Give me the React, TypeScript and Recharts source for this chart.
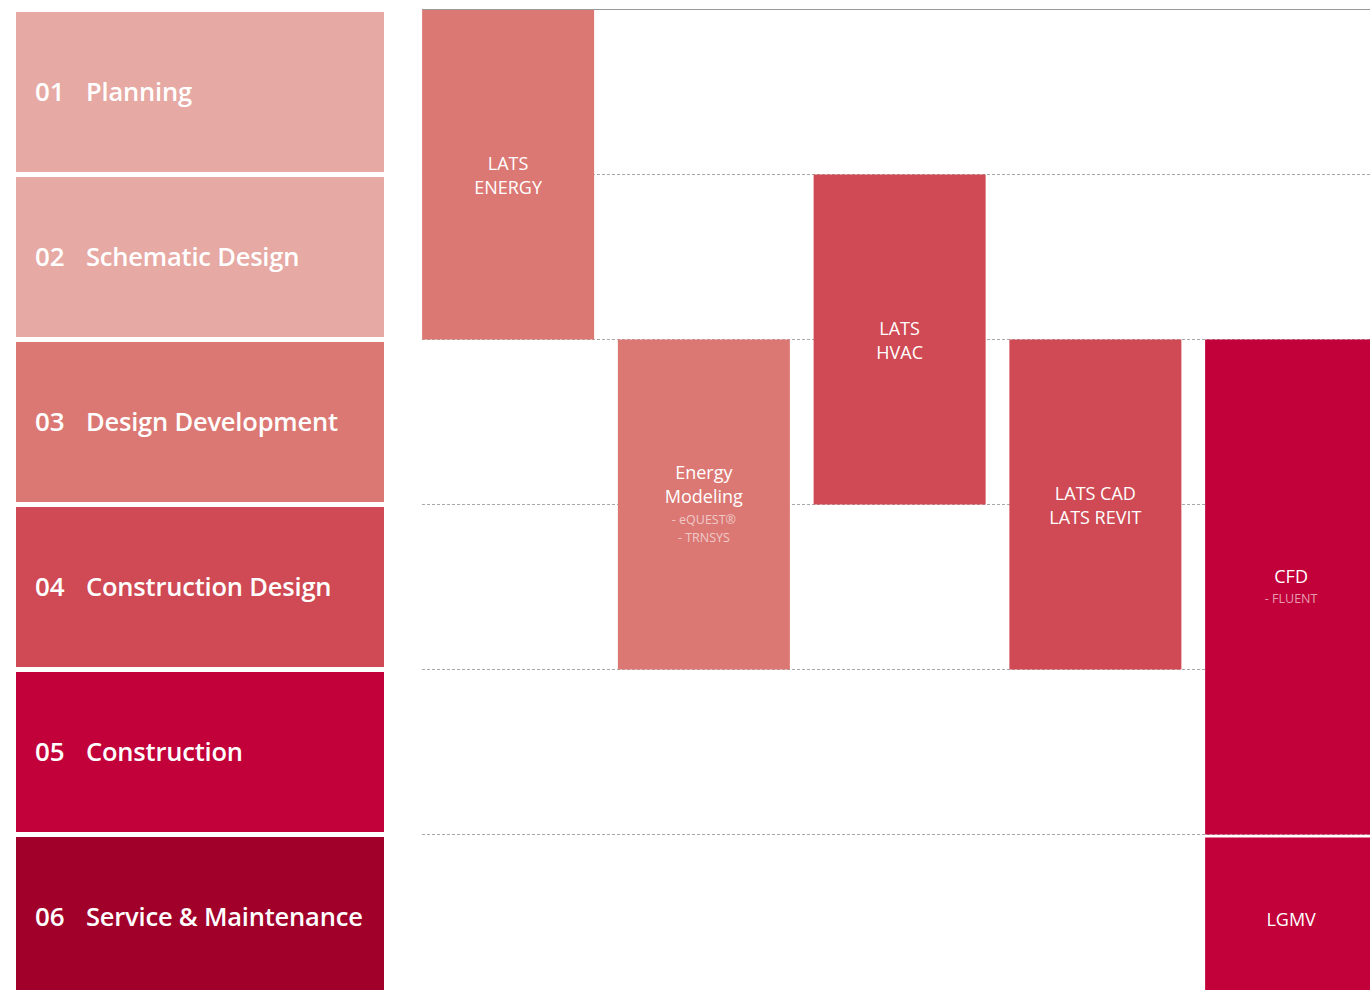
import { ComposedChart, Bar, XAxis, YAxis, CartesianGrid, ReferenceLine, Cell } from 'recharts';

const phaseNumbers = ['01', '02', '03', '04', '05', '06'];
const phaseNames = [
  'Planning',
  'Schematic Design',
  'Design Development',
  'Construction Design',
  'Construction',
  'Service & Maintenance',
];
const phaseColors = ['#E6A9A3', '#E6A9A3', '#DB7874', '#CF4A54', '#C2003A', '#A1002B'];
const phaseTicks = [0.5, 1.5, 2.5, 3.5, 4.5, 5.5];
const phaseBoundaries = [1, 2, 3, 4, 5];

const tools = ['LATS ENERGY', 'Energy Modeling', 'LATS HVAC', 'LATS CAD / LATS REVIT', 'CFD / LGMV'];
const toolFirstPhase = [1, 3, 2, 3, 3];
const toolLastPhase = [2, 4, 3, 4, 5];
const toolColors = ['#DB7874', '#DB7874', '#CF4A54', '#CF4A54', '#C2003A'];
const toolLines = [['LATS', 'ENERGY'], ['Energy', 'Modeling'], ['LATS', 'HVAC'], ['LATS CAD', 'LATS REVIT'], ['CFD']];
const toolSubLines = [[], ['- eQUEST®', '- TRNSYS'], [], [], ['- FLUENT']];

// second tool in the same column (only the CFD column has one)
const laterFirstPhase = [null, null, null, null, 6];
const laterLastPhase = [null, null, null, null, 6];
const laterLines = [[], [], [], [], ['LGMV']];
const laterColor = '#C2003A';

const data = tools.map((tool, i) => ({
  tool,
  span: [toolFirstPhase[i] - 1, toolLastPhase[i]],
  later: laterFirstPhase[i] == null ? null : [laterFirstPhase[i]! - 1, laterLastPhase[i]!],
}));

const font = "'Open Sans', sans-serif";

function makeShape(lines: string[][], subLines: string[][], inset: number) {
  return (props: any) => {
    const { x, y, width, height, fill, payload } = props;
    if (!width || height == null || isNaN(y)) return null;
    const idx = tools.indexOf(payload?.tool);
    const top = Math.min(y, y + height) + inset;
    const h = Math.abs(height) - inset;
    const main = lines[idx] || [];
    const sub = subLines[idx] || [];
    const offsets: number[] = main.map((_, k) => k * 24);
    const lastMain = (main.length - 1) * 24;
    sub.forEach((_, k) => offsets.push(lastMain + 23 + k * 18));
    const span = offsets.length ? offsets[offsets.length - 1] : 0;
    const cx = x + width / 2;
    const first = top + h / 2 - span / 2;
    return (
      <g>
        <rect x={x} y={top} width={width} height={h} fill={fill} />
        {main.map((t, k) => (
          <text key={'m' + k} x={cx} y={first + offsets[k]} textAnchor="middle" dominantBaseline="central"
            fill="#fff" fontFamily={font} fontSize={18}>{t}</text>
        ))}
        {sub.map((t, k) => (
          <text key={'s' + k} x={cx} y={first + offsets[main.length + k]} textAnchor="middle" dominantBaseline="central"
            fill="#fff" fillOpacity={0.62} fontFamily={font} fontSize={12.5}>{t}</text>
        ))}
      </g>
    );
  };
}

function PhaseTick(props: any) {
  const { y, payload } = props;
  const i = Math.floor(payload.value);
  return (
    <g>
      <rect x={16} y={y - 80} width={368} height={160} fill={phaseColors[i]} />
      <text x={35} y={y - 1} dominantBaseline="central" fill="#fff" fontFamily={font} fontWeight={600}
        fontSize={26}>{phaseNumbers[i]}</text>
      <text x={86} y={y - 1} dominantBaseline="central" fill="#fff" fontFamily={font} fontWeight={600}
        fontSize={25.5} letterSpacing={-0.2}>{phaseNames[i]}</text>
    </g>
  );
}

export default function App() {
  return (
    <div style={{ position: 'fixed', top: 0, left: 0, width: 1370, height: 990, overflow: 'hidden', background: '#fff' }}>
      <ComposedChart width={1400} height={1000} data={data}
        margin={{ top: 9.5, right: 11.125, bottom: 0.5, left: 0 }}>
        <XAxis xAxisId="main" dataKey="tool" hide padding={{ left: -11.875, right: 0 }} />
        <XAxis xAxisId="later" dataKey="tool" hide padding={{ left: -11.875, right: 0 }} />
        <YAxis type="number" domain={[0, 6]} reversed ticks={phaseTicks} width={422}
          axisLine={false} tickLine={false} tick={<PhaseTick />} interval={0} />
        <CartesianGrid xAxisId="main" vertical={false} horizontalValues={phaseBoundaries}
          stroke="#a8a8a8" strokeDasharray="3 2" />
        <Bar xAxisId="main" dataKey="span" barSize={172} isAnimationActive={false}
          shape={makeShape(toolLines, toolSubLines, 0)}>
          {data.map((d, i) => <Cell key={d.tool} fill={toolColors[i]} />)}
        </Bar>
        <Bar xAxisId="later" dataKey="later" barSize={172} fill={laterColor} isAnimationActive={false}
          shape={makeShape(laterLines, [], 3)} />
        <ReferenceLine y={0} xAxisId="main" stroke="#9a9a9a" strokeWidth={1.2} />
      </ComposedChart>
    </div>
  );
}
